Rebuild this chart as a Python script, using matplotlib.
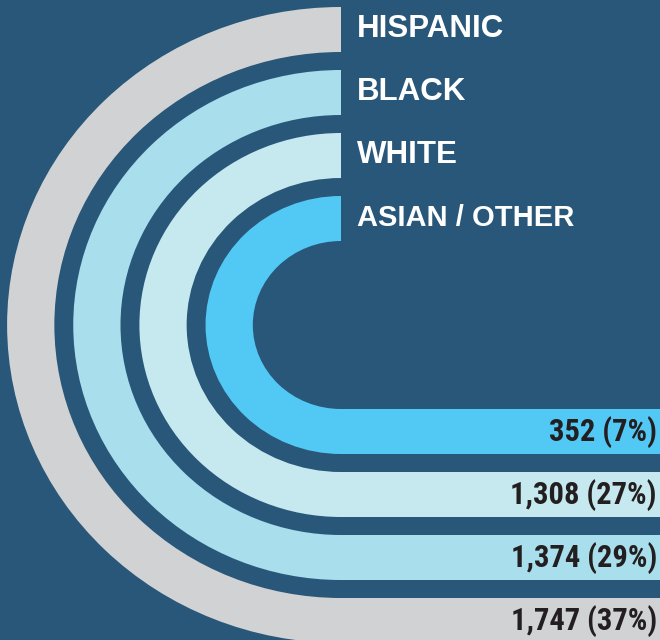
import matplotlib.pyplot as plt
from matplotlib.patches import Wedge
from matplotlib.transforms import Affine2D

# data, outer ring first
groups = ["HISPANIC", "BLACK", "WHITE", "ASIAN / OTHER"]
counts = [1747, 1374, 1308, 352]
shares = [37, 29, 27, 7]
colors = ["#D1D2D4", "#A9DEED", "#C6E8EF", "#52C9F4"]

bg = "#28577A"
W, H = 660, 640
cx, cy = 341, 325       # centre of the rings (pixels)
kx = 1.05               # rings are a little wider than tall
r0, step, band = 318, 63, 45
name_sizes = [22.5, 22.5, 22.5, 21]   # last label is set tighter in the original

fig = plt.figure(figsize=(6.6, 6.4), dpi=100, facecolor=bg)
ax = fig.add_axes([0, 0, 1, 1])
ax.set_facecolor(bg)
ax.set_xlim(0, W)
ax.set_ylim(H, 0)
ax.axis("off")

stretch = Affine2D().scale(kx, 1) + ax.transData

for i, (g, n, s, c) in enumerate(zip(groups, counts, shares, colors)):
    r = r0 - i * step
    ax.add_patch(Wedge((cx / kx, cy), r, 90, 270, width=band,
                       facecolor=c, edgecolor="none", transform=stretch))
    # straight part at the bottom
    ax.barh(cy + r - band / 2, W - cx, left=cx, height=band,
            color=c, edgecolor="none")
    # name at the top end of the ring
    ax.text(cx + 16, cy - r + band / 2 + 7.5, g, color="white",
            fontsize=name_sizes[i], fontweight="bold", family="Liberation Sans",
            va="baseline", ha="left")
    ax.text(W - 3, cy + r - band / 2 + 9, f"{n:,} ({s}%)", color="#231F20",
            fontsize=22, fontweight="bold",
            family=["Roboto Condensed", "Liberation Sans"],
            va="baseline", ha="right")

fig.savefig("out.png", dpi=100, facecolor=bg)
